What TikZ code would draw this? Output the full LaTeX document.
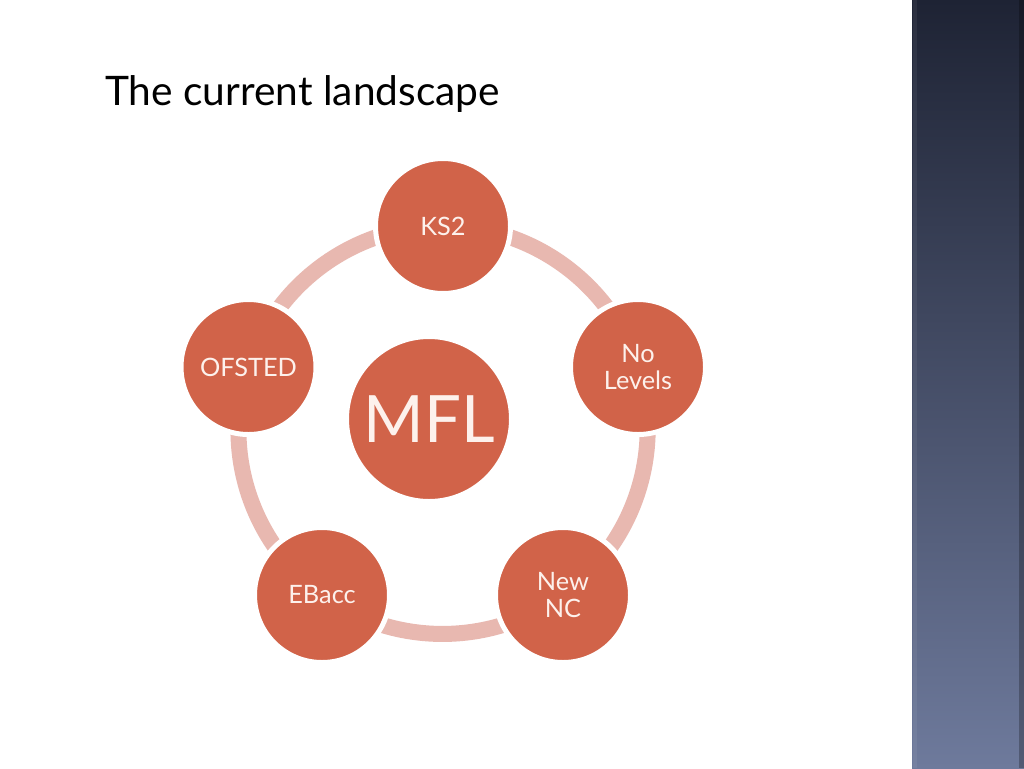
\documentclass[tikz,border=0pt]{standalone}
\usepackage{fontspec}
\setmainfont{Lato}
\pgfdeclarelayer{back}
\pgfdeclarelayer{ringlayer}
\pgfsetlayers{back,ringlayer,main}
\definecolor{bubfill}{HTML}{D16349}
\definecolor{ringcol}{HTML}{E8B8B0}
\definecolor{bubtext}{HTML}{FDF1EC}
\definecolor{bandtop}{HTML}{1E2334}
\definecolor{bandmid}{HTML}{3B4460}
\definecolor{bandbot}{HTML}{6E7A9C}
\tikzset{
  bub/.style={circle, fill=bubfill, draw=white, line width=3.75pt, minimum size=101.25pt,
    inner sep=0pt, text=bubtext, align=center, font=\fontsize{19}{20}\selectfont},
  mflbub/.style={circle, fill=bubfill, draw=white, line width=3pt, minimum size=123pt,
    inner sep=0pt, text=bubtext, font=\fontsize{49}{60}\selectfont},
  ringline/.style={draw=ringcol, line width=12pt, bend left=36, looseness=0.94},
  titletext/.style={anchor=base west, inner sep=0pt, text=black, font=\fontsize{30.5}{34}\selectfont}
}
\begin{document}
\begin{tikzpicture}[x=0.75pt,y=-0.75pt]
\useasboundingbox (0,0) rectangle (1024,768);
\begin{pgfonlayer}{back}
  \fill[white] (0,0) rectangle (1024,768);
  \shade[top color=bandtop, middle color=bandmid, bottom color=bandbot] (912,0) rectangle (1024,768);
  \fill[white, opacity=0.06] (913,0) rectangle (917,768);
  \fill[black, opacity=0.25] (1019,0) rectangle (1024,768);
\end{pgfonlayer}

\node[titletext] (title) at (105,105) {The current landscape};

\node[bub] (ks2) at (443,226) {KS2};
\node[bub] (nolev) at (638,367) {No\\Levels};
\node[bub] (newnc) at (563,595) {New\\NC};
\node[bub] (ebacc) at (322,595) {EBacc};
\node[bub] (ofsted) at (248.5,367) {OFSTED};
\node[mflbub] (mfl) at (429,419) {\raisebox{-5pt}{MFL}};

\begin{pgfonlayer}{ringlayer}
  \draw[ringline] (ks2.center) to (nolev.center);
  \draw[ringline] (nolev.center) to (newnc.center);
  \draw[ringline] (newnc.center) to (ebacc.center);
  \draw[ringline] (ebacc.center) to (ofsted.center);
  \draw[ringline] (ofsted.center) to (ks2.center);
\end{pgfonlayer}
\end{tikzpicture}
\end{document}
